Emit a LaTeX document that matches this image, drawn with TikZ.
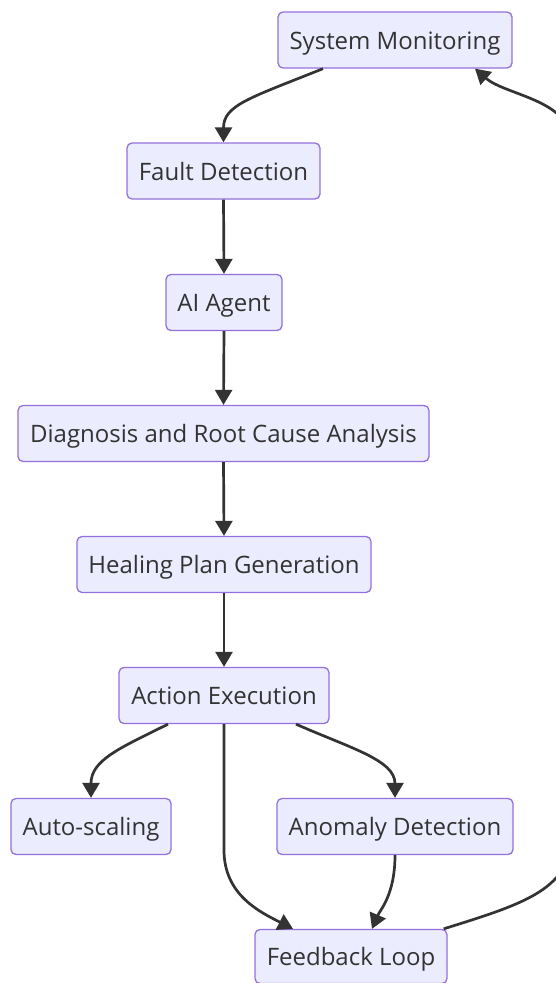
\documentclass[tikz,border=0pt]{standalone}
\usepackage{fontspec}
\setmainfont{Open Sans}
\usetikzlibrary{arrows.meta,calc}
\definecolor{nodefill}{HTML}{ECECFF}
\definecolor{nodeborder}{HTML}{9370DB}
\definecolor{edgecol}{HTML}{333333}
\begin{document}
\begin{tikzpicture}[x=1pt,y=-1pt,
  box/.style={draw=nodeborder, fill=nodefill, line width=1.3pt, rounded corners=5pt,
    minimum height=56pt, inner sep=0pt, text height=24pt, text depth=6pt,
    text=edgecol, font=\fontsize{24}{28}\selectfont},
  edge/.style={draw=edgecol, line width=2.7pt, -{Triangle[length=15pt,width=17pt]}}]
\path[use as bounding box, clip] (0,0) rectangle (556,983);
\node[box, minimum width=234pt] (sm) at (395,40) {System Monitoring};
\node[box, minimum width=193pt] (fd) at (223.5,171) {Fault Detection};
\node[box, minimum width=116pt] (ai) at (224,302.5) {AI Agent};
\node[box, minimum width=411pt] (dr) at (223.5,433.5) {Diagnosis and Root Cause Analysis};
\node[box, minimum width=294pt] (hp) at (224,564.5) {Healing Plan Generation};
\node[box, minimum width=210pt] (ae) at (224,695.5) {Action Execution};
\node[box, minimum width=160pt] (as) at (91,826.5) {Auto-scaling};
\node[box, minimum width=236pt] (ad) at (395,826.5) {Anomaly Detection};
\node[box, minimum width=192pt, minimum height=54pt] (fl) at (351,956.5) {Feedback Loop};

\draw[edge] ($(sm.south)+(-72,0)$) .. controls (250,98) and (223.5,105) .. (fd.north);
\draw[edge] (fd.south) -- (ai.north);
\draw[edge] (ai.south) -- (dr.north);
\draw[edge] (dr.south) -- (hp.north);
\draw[edge] (hp.south) -- (ae.north);
\draw[edge] ($(ae.south)+(-56,0)$) .. controls (120,748) and (91,760) .. (as.north);
\draw[edge] (ae.south) -- (224,850) .. controls (224,895) and (260,912) .. ($(fl.north)+(-58,0)$);
\draw[edge] ($(ae.south)+(72,0)$) .. controls (350,748) and (395,760) .. (ad.north);
\draw[edge] (ad.south) .. controls (395,895) and (380,910) .. ($(fl.north)+(21,0)$);
\draw[edge] ($(fl.north east)+(-4,0)$) .. controls (520,905) and (570,890) .. (570,840)
  -- (570,140) .. controls (570,100) and (505,95) .. ($(sm.south)+(80,0)$);
\end{tikzpicture}
\end{document}
